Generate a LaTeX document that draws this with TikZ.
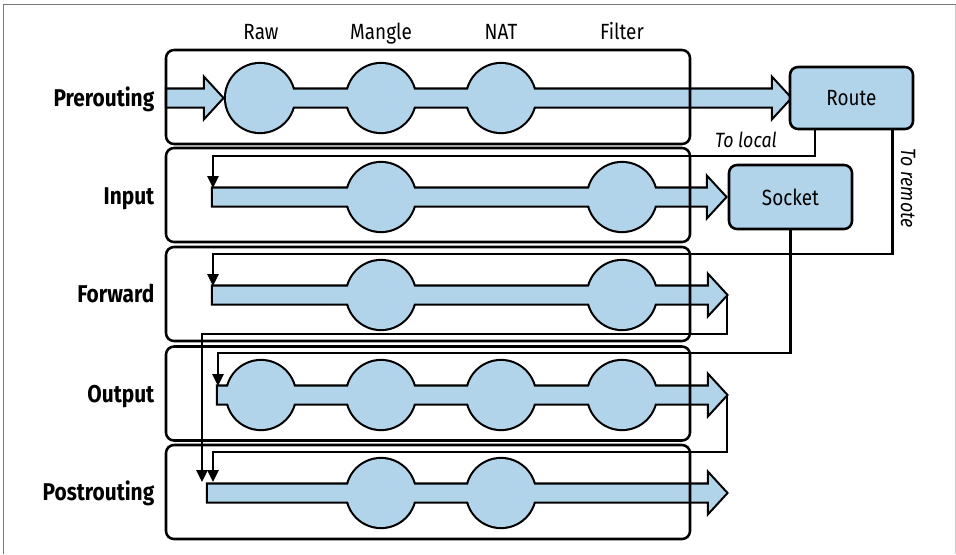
\documentclass[tikz,border=0pt]{standalone}
\usepackage{fontspec}
\setmainfont{Fira Sans}[FakeStretch=0.86]
\usetikzlibrary{arrows.meta}
\definecolor{pipe}{RGB}{178,212,234}
\definecolor{frame}{RGB}{120,120,120}
\newcommand\arrowshape[3]{(#2,#1-8.5) -- (#3-17,#1-8.5) -- (#3-17,#1-18.5) -- (#3,#1) -- (#3-17,#1+18.5) -- (#3-17,#1+8.5) -- (#2,#1+8.5) -- cycle}
\newcommand\circs[2]{\foreach \c in {#2} { (\c,#1) circle[radius=34] }}
\tikzset{
  outerpass/.style={draw=black, line width=3.2pt, fill=pipe, line join=miter},
  innerpass/.style={fill=pipe},
  rowbox/.style={draw=black, line width=1.9pt, rounded corners=6pt, minimum width=393pt, minimum height=70.5pt, inner sep=0pt},
  bluebox/.style={draw=black, line width=1.9pt, fill=pipe, rounded corners=6pt, inner sep=0pt, font=\fontsize{16.5}{19}\selectfont},
  conn/.style={draw=black, line width=1.6pt},
  arr/.style={conn, -{Triangle[length=9pt,width=8.5pt]}},
  collabel/.style={anchor=base, font=\fontsize{16.5}{19}\selectfont},
  rowlabel/.style={anchor=base east, font=\fontsize{18.2}{21}\selectfont\bfseries},
  note/.style={font=\fontsize{15.5}{18}\selectfont\itshape},
}
\begin{document}
\begin{tikzpicture}[x=0.75pt, y=-0.75pt]
\useasboundingbox (0,0) rectangle (956,554);
% outer frame lines
\draw[frame, line width=0.8pt] (3.5,554) -- (3.5,4.5) -- (956,4.5);
\draw[frame!40, line width=0.5pt] (955.5,4.5) -- (955.5,554);

% column labels
\node[collabel] (cRaw) at (261,39) {Raw};
\node[collabel] (cMan) at (381,39) {Mangle};
\node[collabel] (cNat) at (501,39) {NAT};
\node[collabel] (cFil) at (622,39) {Filter};

% pipes: outer pass
\path[outerpass] \arrowshape{98}{167}{222};
\path[outerpass] \arrowshape{98}{260}{790} \circs{98}{260,381,501};
\path[outerpass] \arrowshape{197}{213}{725} \circs{197}{381,622};
\path[outerpass] \arrowshape{295}{213}{726} \circs{295}{381,622};
\path[outerpass] \arrowshape{395}{218}{726} \circs{395}{261,381,501,622};
\path[outerpass] \arrowshape{493}{208}{726} \circs{493}{381,501};
% pipes: inner pass
\path[innerpass] \arrowshape{98}{167}{222};
\path[innerpass] \arrowshape{98}{260}{790} \circs{98}{260,381,501};
\path[innerpass] \arrowshape{197}{213}{725} \circs{197}{381,622};
\path[innerpass] \arrowshape{295}{213}{726} \circs{295}{381,622};
\path[innerpass] \arrowshape{395}{218}{726} \circs{395}{261,381,501,622};
\path[innerpass] \arrowshape{493}{208}{726} \circs{493}{381,501};

% row boxes
\node[rowbox] (rPre) at (428,97) {};
\node[rowbox] (rIn) at (428,195) {};
\node[rowbox] (rFw) at (428,294) {};
\node[rowbox] (rOut) at (428,393.5) {};
\node[rowbox] (rPost) at (428,492) {};

% row labels
\node[rowlabel] (lPre) at (159,106) {Prerouting};
\node[rowlabel] (lIn) at (159,204) {Input};
\node[rowlabel] (lFw) at (159,302) {Forward};
\node[rowlabel] (lOut) at (159,402) {Output};
\node[rowlabel] (lPost) at (159,500.5) {Postrouting};

% route and socket
\node[bluebox, minimum width=92.25pt, minimum height=46.5pt] (route) at (851.5,98) {Route};
\node[bluebox, minimum width=92.25pt, minimum height=48pt] (socket) at (790.5,197) {Socket};

% coordinates
\coordinate (locx) at (815,0);
\coordinate (remx) at (892.5,0);
\coordinate (inL) at (213,156);
\coordinate (inIn) at (213,188);
\coordinate (fwL) at (213,254);
\coordinate (fwIn) at (213,286);
\coordinate (outL) at (218,353);
\coordinate (outIn) at (218,386);
\coordinate (fwTip) at (727,295);
\coordinate (fwD) at (202,334);
\coordinate (poIn1) at (202,482);
\coordinate (outTip) at (727,395);
\coordinate (outD) at (213,452);
\coordinate (poIn2) at (213,482);

% connectors
\draw[arr] (route.south -| locx) |- (inL) -- (inIn);
\draw[arr] (route.south -| remx) |- (fwL) -- (fwIn);
\draw[arr] (socket.south) |- (outL) -- (outIn);
\draw[arr] (fwTip) |- (fwD) -- (poIn1);
\draw[arr] (outTip) |- (outD) -- (poIn2);

% notes
\node[note] (tl) at (746,140) {To local};
\node[note, rotate=-90] (tr) at (908,188) {To remote};
\end{tikzpicture}
\end{document}
